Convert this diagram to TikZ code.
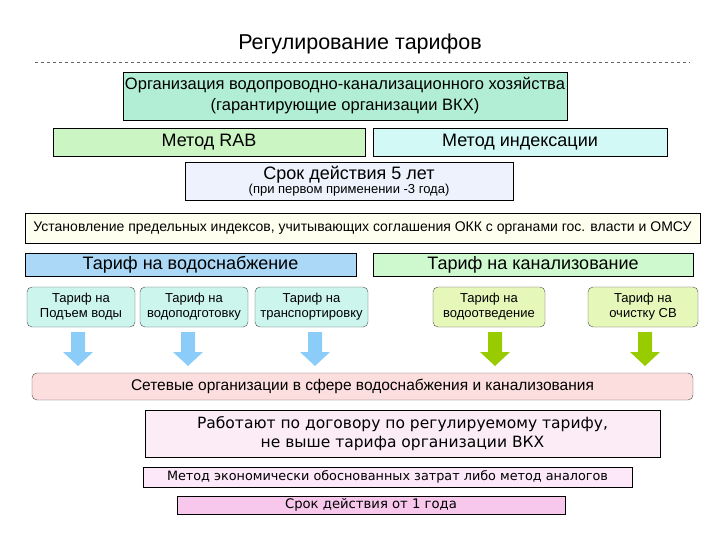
\documentclass[tikz,border=0pt]{standalone}
\usepackage{fontspec}
\setmainfont{Liberation Sans}
\newfontfamily\dv{DejaVu Sans}
\definecolor{orgc}{HTML}{B2EED6}
\definecolor{rabc}{HTML}{CCF5C4}
\definecolor{indc}{HTML}{D2F9F6}
\definecolor{srokc}{HTML}{EEF2FC}
\definecolor{ustc}{HTML}{FFFFF0}
\definecolor{vodc}{HTML}{AAD8F6}
\definecolor{kanc}{HTML}{CEF9CE}
\definecolor{smb}{HTML}{CCF5EE}
\definecolor{smg}{HTML}{E6F7BA}
\definecolor{arb}{HTML}{8CCCF8}
\definecolor{arg}{HTML}{99CC00}
\definecolor{setc}{HTML}{FCDEDE}
\definecolor{rabotc}{HTML}{FCECF6}
\definecolor{metc}{HTML}{FCE8F8}
\definecolor{srok1c}{HTML}{F8C8EC}
\tikzset{
 bx/.style={draw=black,line width=0.6pt,inner sep=0pt,align=center},
 sm/.style={draw=black!70,rounded corners=5pt,inner sep=0pt,align=center,minimum height=40pt,font=\fontsize{13}{15}\selectfont},
 darrow/.pic={\fill (-7,0) -- (7,0) -- (7,20) -- (15,20) -- (0,34) -- (-15,20) -- (-7,20) -- cycle;},
}
\begin{document}
\begin{tikzpicture}[x=1pt,y=-1pt]
\useasboundingbox (0,0) rectangle (720,540);
\node (title) at (360,44) {\fontsize{21.5}{24}\selectfont Регулирование тарифов};
\coordinate (dl) at (35,62); \coordinate (dr) at (690,62);
\draw[dashed,black!60] (dl) -- (dr);
\node[bx,fill=orgc,minimum width=444pt,minimum height=48pt,font=\fontsize{16.5}{21}\selectfont] (org) at (345,96) {Организация водопроводно-канализационного хозяйства\\(гарантирующие организации ВКХ)};
\node[bx,fill=rabc,minimum width=312pt,minimum height=28pt,font=\fontsize{18}{20}\selectfont] (rab) at (209,142) {Метод RAB};
\node[bx,fill=indc,minimum width=294pt,minimum height=28pt,font=\fontsize{18}{20}\selectfont] (ind) at (520,142) {Метод индексации};
\node[bx,fill=srokc,minimum width=328pt,minimum height=38pt] (srok) at (349,181) {\fontsize{18}{19}\selectfont Срок действия 5 лет\\\fontsize{13}{14}\selectfont (при первом применении -3 года)};
\node[bx,fill=ustc,minimum width=675pt,minimum height=30pt,font=\fontsize{14}{16}\selectfont] (ust) at (362.5,228) {Установление предельных индексов, учитывающих соглашения ОКК с органами гос. власти и ОМСУ};
\node[bx,fill=vodc,minimum width=331pt,minimum height=23pt,font=\fontsize{18}{20}\selectfont] (vod) at (190.5,264.5) {Тариф на водоснабжение};
\node[bx,fill=kanc,minimum width=320pt,minimum height=23pt,font=\fontsize{18}{20}\selectfont] (kan) at (533,264.5) {Тариф на канализование};
\node[sm,fill=smb,minimum width=108pt] (s1) at (81,307) {Тариф на\\Подъем воды};
\node[sm,fill=smb,minimum width=108pt] (s2) at (194,307) {Тариф на\\водоподготовку};
\node[sm,fill=smb,minimum width=113pt] (s3) at (311.5,307) {Тариф на\\транспортировку};
\node[sm,fill=smg,minimum width=112pt] (s4) at (489,307) {Тариф на\\водоотведение};
\node[sm,fill=smg,minimum width=110pt] (s5) at (643,307) {Тариф на\\очистку СВ};
\pic[arb] at (78,332) {darrow};
\pic[arb] at (188,332) {darrow};
\pic[arb] at (315,332) {darrow};
\pic[arg] at (495,332) {darrow};
\pic[arg] at (645,332) {darrow};
\node[draw=black!70,rounded corners=5pt,fill=setc,minimum width=661pt,minimum height=27pt,inner sep=0pt,font=\fontsize{15.5}{17}\selectfont] (set) at (362.5,386.5) {Сетевые организации в сфере водоснабжения и канализования};
\node[bx,fill=rabotc,minimum width=515pt,minimum height=47pt,font=\dv\fontsize{15.5}{19}\selectfont] (rabot) at (402.5,433.5) {Работают по договору по регулируемому тарифу,\\не выше тарифа организации ВКХ};
\node[bx,fill=metc,minimum width=489pt,minimum height=20pt,font=\dv\fontsize{12.8}{15}\selectfont] (met) at (387.5,477) {Метод экономически обоснованных затрат либо метод аналогов};
\node[bx,fill=srok1c,minimum width=388pt,minimum height=18pt,font=\dv\fontsize{13.2}{15}\selectfont] (srok1) at (371,505) {Срок действия от 1 года};
\end{tikzpicture}
\end{document}
